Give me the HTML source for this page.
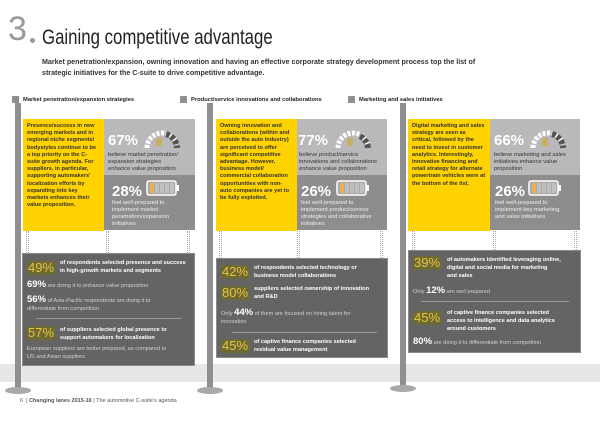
<!DOCTYPE html>
<html><head><meta charset="utf-8"><style>
*{margin:0;padding:0;box-sizing:border-box}
body{width:600px;height:424px;background:#fff;position:relative;overflow:hidden;font-family:"Liberation Sans",sans-serif;color:#333}
.a{position:absolute;white-space:nowrap}
.pole{position:absolute;width:6px;background:#8f8f8f}
.base{position:absolute;width:26px;height:7px;border-radius:50%;background:#a9a9a9}
.y{position:absolute;background:#ffd200;font-size:5.6px;font-weight:bold;line-height:7.2px;padding:4px 4px;color:#333;white-space:normal}
.g1{position:absolute;background:#b9b9bb}
.g2{position:absolute;background:#8d8d8f}
.bp{position:absolute;background:#646464;border:1px solid #8a8a8a}
.big{font-size:15px;color:#fff;font-weight:bold}
.small{font-size:5.8px;color:#fff;line-height:7px;white-space:normal}
.yp{font-size:13px;color:#e8c53a;background:#6e6a35;padding:0 1px;line-height:14px}
.bw{font-size:5.6px;color:#fff;font-weight:bold;line-height:8px}
.lt{font-size:5.6px;color:#d0d0d0;line-height:8px}
.sep{position:absolute;height:1px;background:#999}
.chain{position:absolute;width:3px;height:22px;border-left:1px dotted #aaa;border-right:1px dotted #aaa}
.hdr{font-size:5.8px;font-weight:bold;color:#222}
.sq{position:absolute;width:7px;height:7px;background:#8f8f8f}
.n{font-size:9.5px;color:#fff;font-weight:bold}
</style></head><body>
<div class="a" style="left:0;top:364px;width:600px;height:18px;background:#e7e7e7;position:absolute"></div>
<div class="a" style="left:8px;top:11px;font-size:34px;color:#999;line-height:36px">3</div>
<div class="a" style="left:30px;top:38px;width:5px;height:5px;background:#999;border-radius:50%"></div>
<div class="a" style="left:42px;top:26px;font-size:21px;color:#222;line-height:24px;transform:scaleX(0.8);transform-origin:left top">Gaining competitive advantage</div>
<div class="a" style="left:42px;top:57px;font-size:7.1px;font-weight:bold;color:#333;line-height:11px">Market penetration/expansion, owning innovation and having an effective corporate strategy development process top the list of<br>strategic initiatives for the C-suite to drive competitive advantage.</div>

<div class="sq" style="left:12px;top:96px"></div><div class="a hdr" style="left:23px;top:97px">Market penetration/expansion strategies</div>
<div class="sq" style="left:180px;top:96px"></div><div class="a hdr" style="left:191px;top:97px">Product/service innovations and collaborations</div>
<div class="sq" style="left:348px;top:96px"></div><div class="a hdr" style="left:359px;top:97px">Marketing and sales initiatives</div>

<div class="pole" style="left:15px;top:103px;height:287px"></div>
<div class="pole" style="left:207px;top:103px;height:287px"></div>
<div class="pole" style="left:400px;top:103px;height:285px"></div>
<div class="base" style="left:5px;top:387px"></div>
<div class="base" style="left:197px;top:387px"></div>
<div class="base" style="left:390px;top:385px"></div>

<div class="y" style="left:23px;top:119px;width:81px;height:112px">Presence/success in new emerging markets and in regional niche segments/ bodystyles continue to be a top priority on the C-suite growth agenda. For suppliers, in particular, supporting automakers' localization efforts by expanding into key markets enhances their value proposition.</div>
<div class="g1" style="left:104px;top:119px;width:91px;height:56px"></div>
<div class="g2" style="left:104px;top:175px;width:91px;height:55px"></div>
<div class="a big" style="left:108px;top:132px">67%</div>
<div class="a small" style="left:108px;top:152px;color:#333">believe market penetration/<br>expansion strategies<br>enhance value proposition</div>
<div class="a big" style="left:112px;top:183px">28%</div>
<div class="a small" style="left:112px;top:200px;color:#eee">feel well-prepared to<br>implement market<br>penetration/expansion<br>initiatives</div>

<div class="y" style="left:216px;top:119px;width:81px;height:112px">Owning innovation and collaborations (within and outside the auto industry) are perceived to offer significant competitive advantage. However, business model/ commercial collaboration opportunities with non-auto companies are yet to be fully exploited.</div>
<div class="g1" style="left:297px;top:119px;width:90px;height:56px"></div>
<div class="g2" style="left:297px;top:175px;width:90px;height:55px"></div>
<div class="a big" style="left:298px;top:132px">77%</div>
<div class="a small" style="left:299px;top:152px;color:#333">believe product/service<br>innovations and collaborations<br>enhance value proposition</div>
<div class="a big" style="left:301px;top:183px">26%</div>
<div class="a small" style="left:301px;top:200px;color:#eee">feel well-prepared to<br>implement product/service<br>strategies and collaborative<br>initiatives</div>

<div class="y" style="left:408px;top:119px;width:82px;height:112px">Digital marketing and sales strategy are seen as critical, followed by the need to invest in customer analytics. Interestingly, innovative financing and retail strategy for alternate powertrain vehicles were at the bottom of the list.</div>
<div class="g1" style="left:490px;top:119px;width:90px;height:56px"></div>
<div class="g2" style="left:490px;top:175px;width:90px;height:55px"></div>
<div class="a big" style="left:494px;top:132px">66%</div>
<div class="a small" style="left:494px;top:152px;color:#333">believe marketing and sales<br>initiatives enhance value<br>proposition</div>
<div class="a big" style="left:495px;top:183px">26%</div>
<div class="a small" style="left:495px;top:200px;color:#eee">feel well-prepared to<br>implement key marketing<br>and sales initiatives</div>

<svg class="a" style="left:142px;top:124px" width="40" height="26"><path d="M5 24 A15 15 0 0 1 35 24" fill="none" stroke="#fff" stroke-width="5" stroke-dasharray="3 1.5"/><path d="M24 10 A15 15 0 0 1 35 24" fill="none" stroke="#555" stroke-width="6" stroke-dasharray="4 1.5"/><rect x="14" y="14" width="6" height="8" fill="#c8b060"/></svg>
<svg class="a" style="left:333px;top:124px" width="40" height="26"><path d="M5 24 A15 15 0 0 1 35 24" fill="none" stroke="#fff" stroke-width="5" stroke-dasharray="3 1.5"/><path d="M27 12 A15 15 0 0 1 35 24" fill="none" stroke="#555" stroke-width="6" stroke-dasharray="4 1.5"/><rect x="14" y="14" width="6" height="8" fill="#c8b060"/></svg>
<svg class="a" style="left:528px;top:124px" width="40" height="26"><path d="M5 24 A15 15 0 0 1 35 24" fill="none" stroke="#fff" stroke-width="5" stroke-dasharray="3 1.5"/><path d="M24 10 A15 15 0 0 1 35 24" fill="none" stroke="#555" stroke-width="6" stroke-dasharray="4 1.5"/><rect x="14" y="14" width="6" height="8" fill="#c8b060"/></svg>
<svg class="a" style="left:146px;top:180px" width="34" height="16"><rect x="1" y="1" width="29" height="14" rx="2" fill="#a9a9a9" stroke="#fff" stroke-width="1.5"/><rect x="30" y="5" width="3" height="6" fill="#fff"/><rect x="4" y="3" width="4" height="10" fill="#e8b050"/><rect x="9" y="3" width="4" height="10" fill="#c0c0c0"/><rect x="14" y="3" width="4" height="10" fill="#c0c0c0"/><rect x="19" y="3" width="4" height="10" fill="#c0c0c0"/><rect x="24" y="3" width="4" height="10" fill="#c0c0c0"/></svg>
<svg class="a" style="left:336px;top:180px" width="34" height="16"><rect x="1" y="1" width="29" height="14" rx="2" fill="#a9a9a9" stroke="#fff" stroke-width="1.5"/><rect x="30" y="5" width="3" height="6" fill="#fff"/><rect x="4" y="3" width="4" height="10" fill="#e8b050"/><rect x="9" y="3" width="4" height="10" fill="#c0c0c0"/><rect x="14" y="3" width="4" height="10" fill="#c0c0c0"/><rect x="19" y="3" width="4" height="10" fill="#c0c0c0"/><rect x="24" y="3" width="4" height="10" fill="#c0c0c0"/></svg>
<svg class="a" style="left:528px;top:180px" width="34" height="16"><rect x="1" y="1" width="29" height="14" rx="2" fill="#a9a9a9" stroke="#fff" stroke-width="1.5"/><rect x="30" y="5" width="3" height="6" fill="#fff"/><rect x="4" y="3" width="4" height="10" fill="#e8b050"/><rect x="9" y="3" width="4" height="10" fill="#c0c0c0"/><rect x="14" y="3" width="4" height="10" fill="#c0c0c0"/><rect x="19" y="3" width="4" height="10" fill="#c0c0c0"/><rect x="24" y="3" width="4" height="10" fill="#c0c0c0"/></svg>

<div class="chain" style="left:26px;top:231px"></div><div class="chain" style="left:106px;top:231px"></div><div class="chain" style="left:187px;top:231px"></div>
<div class="chain" style="left:219px;top:231px;height:27px"></div><div class="chain" style="left:297px;top:231px;height:27px"></div><div class="chain" style="left:380px;top:231px;height:27px"></div>
<div class="chain" style="left:412px;top:231px;height:19px"></div><div class="chain" style="left:493px;top:231px;height:19px"></div><div class="chain" style="left:574px;top:231px;height:19px"></div>

<div class="bp" style="left:22px;top:253px;width:173px;height:113px"></div>
<div class="a yp" style="left:27px;top:261px">49%</div>
<div class="a bw" style="left:60px;top:259px">of respondents selected presence and success<br>in high-growth markets and segments</div>
<div class="a lt" style="left:27px;top:281px"><span class="n">69%</span> are doing it to enhance value proposition</div>
<div class="a lt" style="left:27px;top:296px"><span class="n">56%</span> of Asia-Pacific respondents are doing it to<br>differentiate from competition</div>
<div class="sep" style="left:36px;top:318px;width:146px"></div>
<div class="a yp" style="left:27px;top:326px">57%</div>
<div class="a bw" style="left:60px;top:326px">of suppliers selected global presence to<br>support automakers for localization</div>
<div class="a lt" style="left:27px;top:345px">European suppliers are better prepared, as compared to<br>US and Asian suppliers</div>

<div class="bp" style="left:216px;top:258px;width:172px;height:100px"></div>
<div class="a yp" style="left:221px;top:265px">42%</div>
<div class="a bw" style="left:254px;top:264px">of respondents selected technology or<br>business model collaborations</div>
<div class="a yp" style="left:221px;top:286px">80%</div>
<div class="a bw" style="left:254px;top:285px">suppliers selected ownership of innovation<br>and R&amp;D</div>
<div class="a lt" style="left:221px;top:309px">Only <span class="n">44%</span> of them are focused on hiring talent for<br>innovation</div>
<div class="sep" style="left:232px;top:332px;width:145px"></div>
<div class="a yp" style="left:221px;top:339px">45%</div>
<div class="a bw" style="left:254px;top:338px">of captive finance companies selected<br>residual value management</div>

<div class="bp" style="left:408px;top:250px;width:173px;height:103px"></div>
<div class="a yp" style="left:413px;top:256px">39%</div>
<div class="a bw" style="left:447px;top:256px">of automakers identified leveraging online,<br>digital and social media for marketing<br>and sales</div>
<div class="a lt" style="left:413px;top:287px">Only <span class="n">12%</span> are well prepared</div>
<div class="sep" style="left:421px;top:301px;width:148px"></div>
<div class="a yp" style="left:413px;top:311px">45%</div>
<div class="a bw" style="left:447px;top:309px">of captive finance companies selected<br>access to intelligence and data analytics<br>around customers</div>
<div class="a lt" style="left:413px;top:338px"><span class="n">80%</span> are doing it to differentiate from competition</div>

<div class="a" style="left:20px;top:398px;font-size:5.5px;color:#555">6 &nbsp;| <b>Changing lanes 2015-16</b> | The automotive C-suite's agenda</div>
</body></html>
